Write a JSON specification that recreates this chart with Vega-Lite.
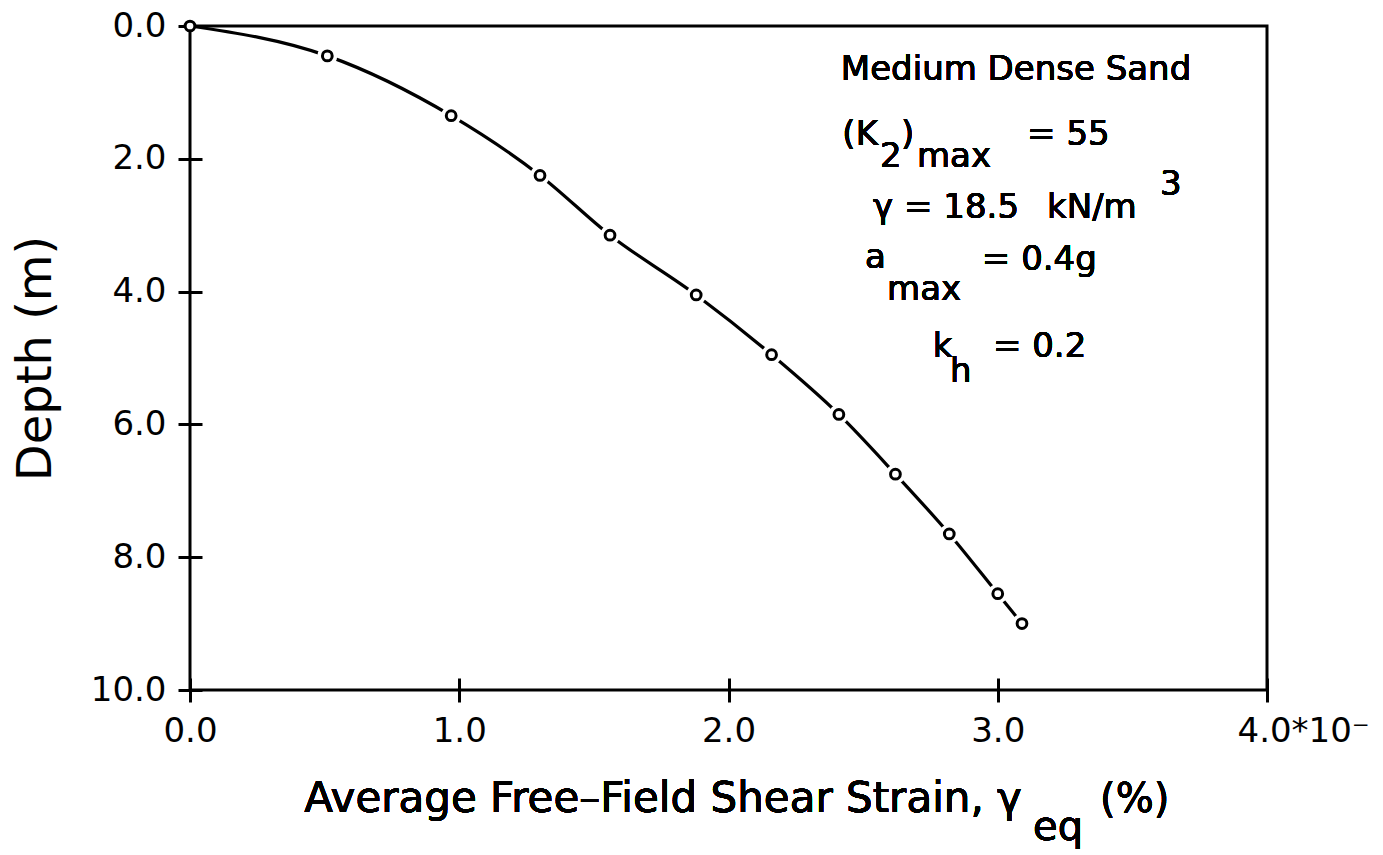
{
  "$schema": "https://vega.github.io/schema/vega-lite/v6.json",
  "width": 1077,
  "height": 664,
  "autosize": "none",
  "padding": {"left": 190, "top": 26, "right": 116, "bottom": 165},
  "background": "white",
  "config": {
    "view": {"stroke": "black", "strokeWidth": 3},
    "font": "DejaVu Sans",
    "text": {"color": "black", "font": "DejaVu Sans"}
  },
  "data": {
    "values": [
      {"strain": 0.0, "depth": 0.0},
      {"strain": 0.51, "depth": 0.45},
      {"strain": 0.97, "depth": 1.35},
      {"strain": 1.30, "depth": 2.25},
      {"strain": 1.56, "depth": 3.15},
      {"strain": 1.88, "depth": 4.05},
      {"strain": 2.16, "depth": 4.95},
      {"strain": 2.41, "depth": 5.85},
      {"strain": 2.62, "depth": 6.75},
      {"strain": 2.82, "depth": 7.65},
      {"strain": 3.00, "depth": 8.55},
      {"strain": 3.09, "depth": 9.0}
    ]
  },
  "layer": [
    {
      "mark": {"type": "line", "interpolate": "monotone", "color": "black", "strokeWidth": 3.2},
      "encoding": {
        "x": {
          "field": "strain", "type": "quantitative",
          "scale": {"domain": [0, 4], "nice": false, "zero": false},
          "axis": {
            "title": null, "values": [0, 1, 2, 3, 4], "domain": false, "grid": false,
            "offset": -12, "tickSize": 24, "tickWidth": 3, "tickColor": "black",
            "labelFontSize": 34, "labelColor": "black", "labelPadding": 12,
            "labelFlush": false, "labelOverlap": false,
            "labelExpr": "datum.value == 4 ? '4.0*10⁻' : format(datum.value, '.1f')",
            "labelAlign": {"condition": {"test": "datum.value == 4", "value": "left"}, "value": "center"},
            "labelOffset": {"condition": {"test": "datum.value == 4", "value": -30}, "value": 0}
          }
        },
        "y": {
          "field": "depth", "type": "quantitative",
          "scale": {"domain": [0, 10], "reverse": true, "nice": false, "zero": false},
          "axis": {
            "title": "Depth (m)", "values": [0, 2, 4, 6, 8, 10], "domain": false, "grid": false,
            "offset": -12, "tickSize": 24, "tickWidth": 3, "tickColor": "black",
            "labelFontSize": 34, "labelColor": "black", "labelPadding": 12,
            "labelFlush": false, "labelOverlap": false,
            "labelExpr": "format(datum.value, '.1f')",
            "titleFontSize": 48, "titleFontWeight": "normal", "titleColor": "black",
            "titleBaseline": "alphabetic", "titlePadding": 40
          }
        }
      }
    },
    {
      "transform": [{"filter": "datum.strain > 0"}],
      "mark": {"type": "point", "shape": "circle", "filled": true, "fill": "white", "stroke": "white", "strokeWidth": 10, "size": 100, "opacity": 1},
      "encoding": {
        "x": {"field": "strain", "type": "quantitative"},
        "y": {"field": "depth", "type": "quantitative"}
      }
    },
    {
      "mark": {"type": "point", "shape": "circle", "filled": true, "fill": "white", "stroke": "black", "strokeWidth": 3, "size": 95, "opacity": 1},
      "encoding": {
        "x": {"field": "strain", "type": "quantitative"},
        "y": {"field": "depth", "type": "quantitative"}
      }
    },
    {
      "mark": {"type": "text", "fontSize": 34, "align": "center", "baseline": "alphabetic"},
      "encoding": {"x": {"datum": 3.068, "type": "quantitative"}, "y": {"datum": 0.813, "type": "quantitative"}, "text": {"value": "Medium Dense Sand"}}
    },
    {
      "mark": {"type": "text", "fontSize": 34, "align": "right", "baseline": "alphabetic"},
      "encoding": {"x": {"datum": 2.555, "type": "quantitative"}, "y": {"datum": 1.792, "type": "quantitative"}, "text": {"value": "(K"}}
    },
    {
      "mark": {"type": "text", "fontSize": 34, "align": "left", "baseline": "alphabetic"},
      "encoding": {"x": {"datum": 2.563, "type": "quantitative"}, "y": {"datum": 2.123, "type": "quantitative"}, "text": {"value": "2"}}
    },
    {
      "mark": {"type": "text", "fontSize": 34, "align": "left", "baseline": "alphabetic"},
      "encoding": {"x": {"datum": 2.641, "type": "quantitative"}, "y": {"datum": 1.792, "type": "quantitative"}, "text": {"value": ")"}}
    },
    {
      "mark": {"type": "text", "fontSize": 34, "align": "left", "baseline": "alphabetic"},
      "encoding": {"x": {"datum": 2.7, "type": "quantitative"}, "y": {"datum": 2.123, "type": "quantitative"}, "text": {"value": "max"}}
    },
    {
      "mark": {"type": "text", "fontSize": 34, "align": "left", "baseline": "alphabetic"},
      "encoding": {"x": {"datum": 3.109, "type": "quantitative"}, "y": {"datum": 1.792, "type": "quantitative"}, "text": {"value": "= 55"}}
    },
    {
      "mark": {"type": "text", "fontSize": 34, "align": "center", "baseline": "alphabetic"},
      "encoding": {"x": {"datum": 2.808, "type": "quantitative"}, "y": {"datum": 2.892, "type": "quantitative"}, "text": {"value": "γ = 18.5"}}
    },
    {
      "mark": {"type": "text", "fontSize": 34, "align": "left", "baseline": "alphabetic"},
      "encoding": {"x": {"datum": 3.183, "type": "quantitative"}, "y": {"datum": 2.892, "type": "quantitative"}, "text": {"value": "kN/m"}}
    },
    {
      "mark": {"type": "text", "fontSize": 34, "align": "left", "baseline": "alphabetic"},
      "encoding": {"x": {"datum": 3.603, "type": "quantitative"}, "y": {"datum": 2.545, "type": "quantitative"}, "text": {"value": "3"}}
    },
    {
      "mark": {"type": "text", "fontSize": 34, "align": "left", "baseline": "alphabetic"},
      "encoding": {"x": {"datum": 2.507, "type": "quantitative"}, "y": {"datum": 3.645, "type": "quantitative"}, "text": {"value": "a"}}
    },
    {
      "mark": {"type": "text", "fontSize": 34, "align": "left", "baseline": "alphabetic"},
      "encoding": {"x": {"datum": 2.589, "type": "quantitative"}, "y": {"datum": 4.127, "type": "quantitative"}, "text": {"value": "max"}}
    },
    {
      "mark": {"type": "text", "fontSize": 34, "align": "left", "baseline": "alphabetic"},
      "encoding": {"x": {"datum": 2.941, "type": "quantitative"}, "y": {"datum": 3.675, "type": "quantitative"}, "text": {"value": "= 0.4g"}}
    },
    {
      "mark": {"type": "text", "fontSize": 34, "align": "left", "baseline": "alphabetic"},
      "encoding": {"x": {"datum": 2.759, "type": "quantitative"}, "y": {"datum": 4.985, "type": "quantitative"}, "text": {"value": "k"}}
    },
    {
      "mark": {"type": "text", "fontSize": 34, "align": "left", "baseline": "alphabetic"},
      "encoding": {"x": {"datum": 2.823, "type": "quantitative"}, "y": {"datum": 5.361, "type": "quantitative"}, "text": {"value": "h"}}
    },
    {
      "mark": {"type": "text", "fontSize": 34, "align": "left", "baseline": "alphabetic"},
      "encoding": {"x": {"datum": 2.982, "type": "quantitative"}, "y": {"datum": 4.985, "type": "quantitative"}, "text": {"value": "= 0.2"}}
    },
    {
      "mark": {"type": "text", "fontSize": 42, "align": "right", "baseline": "alphabetic"},
      "encoding": {"x": {"datum": 3.09, "type": "quantitative"}, "y": {"datum": 11.837, "type": "quantitative"}, "text": {"value": "Average Free–Field Shear Strain, γ"}}
    },
    {
      "mark": {"type": "text", "fontSize": 40, "align": "left", "baseline": "alphabetic"},
      "encoding": {"x": {"datum": 3.131, "type": "quantitative"}, "y": {"datum": 12.259, "type": "quantitative"}, "text": {"value": "eq"}}
    },
    {
      "mark": {"type": "text", "fontSize": 40, "align": "left", "baseline": "alphabetic"},
      "encoding": {"x": {"datum": 3.38, "type": "quantitative"}, "y": {"datum": 11.837, "type": "quantitative"}, "text": {"value": "(%)"}}
    }
  ]
}
